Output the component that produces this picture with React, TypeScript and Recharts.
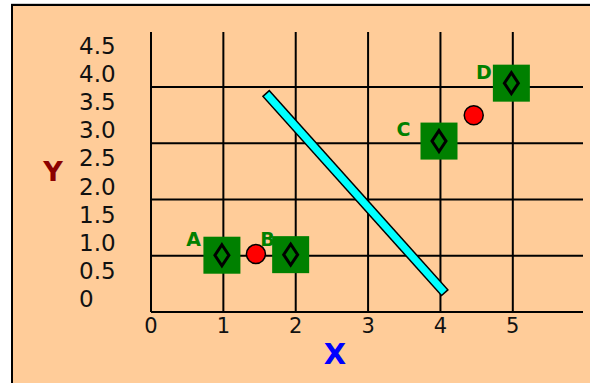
import React from 'react';
import { ScatterChart, Scatter, XAxis, YAxis, ReferenceLine } from 'recharts';

const xTicks = [0, 1, 2, 3, 4, 5];
const yTicks = [0, 0.5, 1, 1.5, 2, 2.5, 3, 3.5, 4, 4.5];
const yTickLabels = ['0', '0.5', '1.0', '1.5', '2.0', '2.5', '3.0', '3.5', '4.0', '4.5'];
const gridX = [0, 1, 2, 3, 4, 5];
const gridY = [0, 1, 2, 3, 4];

const squares = [
  { x: 0.98, y: 1.01 },
  { x: 1.93, y: 1.02 },
  { x: 3.98, y: 3.04 },
  { x: 4.98, y: 4.07 },
];
const squareLabels = [
  { x: 0.59, y: 1.29, name: 'A' },
  { x: 1.61, y: 1.29, name: 'B' },
  { x: 3.49, y: 3.26, name: 'C' },
  { x: 4.6, y: 4.27, name: 'D' },
];
const circles = [
  { x: 1.45, y: 1.03 },
  { x: 4.46, y: 3.5 },
];
const bar = [
  { x: 1.63, y: 3.83 },
  { x: 4.02, y: 0.4 },
];

const FONT = '"DejaVu Sans", Verdana, sans-serif';

const SquareShape = (props: any) => {
  const { cx, cy } = props;
  return (
    <g>
      <rect x={cx - 18.5} y={cy - 18.5} width={37} height={37} fill="#008000" />
      <path
        d={`M${cx},${cy - 10.5} L${cx + 7},${cy} L${cx},${cy + 10.5} L${cx - 7},${cy} Z`}
        fill="none"
        stroke="#000"
        strokeWidth={3}
      />
    </g>
  );
};

const CircleShape = (props: any) => (
  <circle cx={props.cx} cy={props.cy} r={9.5} fill="#ff0000" stroke="#000" strokeWidth={1.5} />
);

const LetterShape = (props: any) => (
  <text
    x={props.cx}
    y={props.cy}
    textAnchor="middle"
    dominantBaseline="central"
    fill="#008000"
    fontWeight="bold"
    fontSize={19}
    fontFamily={FONT}
  >
    {props.payload.name}
  </text>
);

const YTick = (props: any) => {
  const { y, index } = props;
  return (
    <text x={79} y={y - 13} dominantBaseline="central" fontSize={23} fontFamily={FONT} fill="#111">
      {yTickLabels[index]}
    </text>
  );
};

export default function App() {
  return (
    <div style={{ position: 'relative', width: 590, height: 383, overflow: 'hidden', background: '#fff' }}>
      <style>{'body{margin:0}'}</style>
      <div
        style={{
          position: 'absolute',
          left: 11,
          top: 4,
          width: 620,
          height: 420,
          border: '2px solid #000',
          boxShadow: '0 -1px 0 #cfcfcf',
          background: '#FFCC99',
        }}
      />
      <div style={{ position: 'absolute', left: 0, top: 0 }}>
        <ScatterChart width={590} height={383} margin={{ top: 32, right: 7, bottom: 0, left: 0 }}>
          <XAxis
            type="number"
            dataKey="x"
            domain={[0, 5.97]}
            ticks={xTicks}
            height={71}
            axisLine={false}
            tickLine={false}
            tickSize={0}
            tickMargin={6}
            tick={{ fontSize: 21, fontFamily: FONT, fill: '#111' }}
            allowDataOverflow
          />
          <YAxis
            type="number"
            dataKey="y"
            domain={[0, 4.98]}
            ticks={yTicks}
            width={151}
            axisLine={false}
            tickLine={false}
            tick={<YTick />}
            allowDataOverflow
          />
          {gridX.map((v) => (
            <ReferenceLine key={'gx' + v} x={v} stroke="#000" strokeWidth={2} />
          ))}
          {gridY.map((v) => (
            <ReferenceLine key={'gy' + v} y={v} stroke="#000" strokeWidth={2} />
          ))}
          <ReferenceLine
            segment={bar}
            stroke="#000"
            strokeWidth={10}
            strokeLinecap="square"
            ifOverflow="visible"
          />
          <ReferenceLine
            segment={bar}
            stroke="#00ffff"
            strokeWidth={7}
            strokeLinecap="square"
            ifOverflow="visible"
          />
          <Scatter data={squares} shape={<SquareShape />} isAnimationActive={false} />
          <Scatter data={squareLabels} shape={<LetterShape />} isAnimationActive={false} />
          <Scatter data={circles} shape={<CircleShape />} isAnimationActive={false} />
        </ScatterChart>
      </div>
      <div
        style={{
          position: 'absolute',
          left: 53,
          top: 171,
          transform: 'translate(-50%, -50%)',
          color: '#8B0000',
          fontWeight: 'bold',
          fontSize: 27,
          fontFamily: FONT,
        }}
      >
        Y
      </div>
      <div
        style={{
          position: 'absolute',
          left: 335,
          top: 354,
          transform: 'translate(-50%, -50%)',
          color: '#0000ff',
          fontWeight: 'bold',
          fontSize: 29,
          fontFamily: FONT,
        }}
      >
        X
      </div>
    </div>
  );
}
